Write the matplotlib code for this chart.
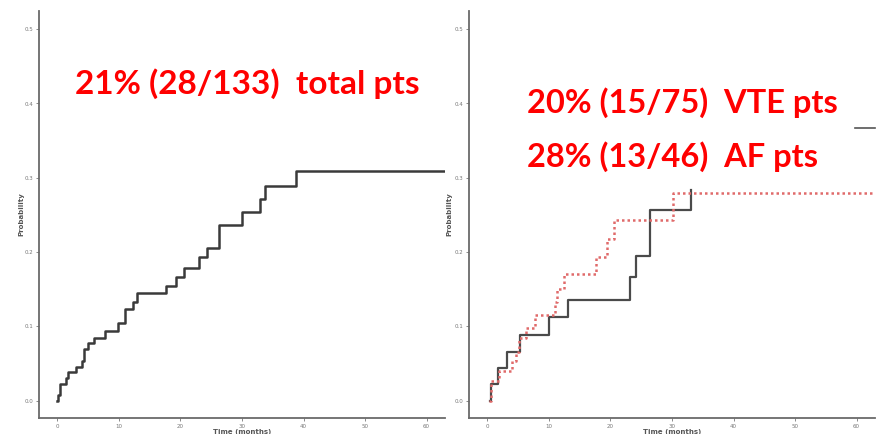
import matplotlib
matplotlib.use("Agg")
import matplotlib.pyplot as plt
from matplotlib.lines import Line2D

# cumulative incidence, all patients
total_t = [0.0, 0.16, 0.43, 1.46, 1.73, 2.98, 4.01, 4.39, 5.04, 5.96, 7.70, 9.81,
           11.0, 12.25, 12.85, 17.72, 19.35, 20.54, 23.04, 24.23, 26.29, 29.97,
           33.0, 33.8, 38.7, 63.0]
total_p = [0.0, 0.0076, 0.023, 0.031, 0.038, 0.046, 0.054, 0.070, 0.077, 0.085,
           0.094, 0.104, 0.123, 0.133, 0.145, 0.155, 0.167, 0.179, 0.193, 0.206,
           0.237, 0.254, 0.271, 0.289, 0.309, 0.309]

# VTE patients
vte_t = [0.43, 0.53, 1.78, 3.13, 5.29, 10.0, 13.1, 23.1, 24.2, 26.4, 33.1]
vte_p = [0.0, 0.0225, 0.0436, 0.066, 0.088, 0.112, 0.136, 0.166, 0.195, 0.257, 0.283]

# AF patients
af_t = [0.27, 0.5, 1.9, 4.05, 4.6, 5.2, 6.2, 7.8, 11.0, 11.35, 12.45, 17.7,
        19.5, 20.5, 30.1, 63.0]
af_p = [0.0, 0.027, 0.040, 0.053, 0.066, 0.084, 0.098, 0.115, 0.133, 0.151,
        0.170, 0.193, 0.218, 0.243, 0.279, 0.279]

x_ticks = [0, 10, 20, 30, 40, 50, 60]
y_ticks = [0.0, 0.1, 0.2, 0.3, 0.4, 0.5]

fig = plt.figure(figsize=(8.78, 4.34), dpi=100)
ax1 = fig.add_axes([39 / 878, 16 / 434, 406 / 878, 407 / 434])
ax2 = fig.add_axes([469 / 878, 16 / 434, 406 / 878, 407 / 434])

spine_col = "#6a6a6a"
for ax, ylab_x in ((ax1, -0.037), (ax2, -0.040)):
    ax.set_xlim(-3.0, 63.0)
    ax.set_ylim(-0.0233, 0.5245)
    ax.set_xticks(x_ticks)
    ax.set_yticks(y_ticks)
    ax.set_xticklabels([str(v) for v in x_ticks])
    ax.set_yticklabels([f"{v:.1f}" for v in y_ticks])
    ax.tick_params(labelsize=4, colors="#777777", length=2.5, width=0.6, pad=1.5)
    for s in ("top", "right"):
        ax.spines[s].set_visible(False)
    for s in ("left", "bottom"):
        ax.spines[s].set_color(spine_col)
        ax.spines[s].set_linewidth(1.3)
    ax.set_ylabel("Probability", fontsize=5, fontweight="bold", color="#555555")
    ax.set_xlabel("Time (months)", fontsize=5, fontweight="bold", color="#555555")
    ax.yaxis.set_label_coords(ylab_x, 0.50)
    ax.xaxis.set_label_coords(0.5, -0.027)

ax1.step(total_t, total_p, where="post", color="#3a3a3a", lw=1.8)

ax2.step(vte_t, vte_p, where="post", color="#4a4a4a", lw=1.6)
ax2.step(af_t, af_p, where="post", color="#e06a6a", lw=1.8, linestyle=(0, (1, 1.2)))

red_font = dict(color="#ff0000", fontweight="bold", family=["Lato", "DejaVu Sans"])
fig.text(75 / 878, 1 - 94 / 434, "21% (28/133)  total pts", fontsize=24,
         va="baseline", ha="left", **red_font)
fig.text(527 / 878, 1 - 113 / 434, "20% (15/75)  VTE pts", fontsize=23.5,
         va="baseline", ha="left", **red_font)
fig.text(527 / 878, 1 - 167 / 434, "28% (13/46)  AF pts", fontsize=23.5,
         va="baseline", ha="left", **red_font)

# short legend stroke left over at the right edge
fig.add_artist(Line2D([855 / 878, 875 / 878], [1 - 128 / 434] * 2,
                      transform=fig.transFigure, color="#555555", lw=1.2, zorder=5))

fig.savefig("out.png", dpi=100)
